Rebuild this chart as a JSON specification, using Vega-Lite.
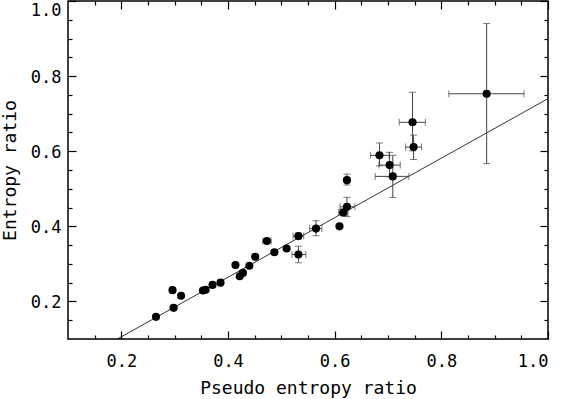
{
  "$schema": "https://vega.github.io/schema/vega-lite/v6.json",
  "width": 480,
  "height": 338,
  "autosize": "none",
  "padding": {"left": 68, "top": 1, "right": 14, "bottom": 60},
  "background": "white",
  "config": {
    "view": {"stroke": "black", "strokeWidth": 1.5},
    "axis": {
      "labelFont": "DejaVu Sans Mono",
      "titleFont": "DejaVu Sans Mono",
      "labelColor": "black",
      "titleColor": "black",
      "tickColor": "black",
      "tickWidth": 1.2,
      "domain": false,
      "grid": false,
      "titleFontWeight": "normal",
      "labelFontSize": 17,
      "titleFontSize": 18
    }
  },
  "datasets": {
    "pts": [
      {"x": 0.265, "y": 0.159}, {"x": 0.296, "y": 0.230}, {"x": 0.298, "y": 0.183},
      {"x": 0.312, "y": 0.215}, {"x": 0.353, "y": 0.229}, {"x": 0.358, "y": 0.231},
      {"x": 0.371, "y": 0.244}, {"x": 0.386, "y": 0.250}, {"x": 0.414, "y": 0.297},
      {"x": 0.422, "y": 0.267}, {"x": 0.428, "y": 0.276}, {"x": 0.440, "y": 0.295},
      {"x": 0.451, "y": 0.319}, {"x": 0.473, "y": 0.361}, {"x": 0.487, "y": 0.331},
      {"x": 0.510, "y": 0.341}, {"x": 0.532, "y": 0.374}, {"x": 0.532, "y": 0.325},
      {"x": 0.565, "y": 0.394}, {"x": 0.609, "y": 0.400}, {"x": 0.616, "y": 0.437},
      {"x": 0.623, "y": 0.452}, {"x": 0.623, "y": 0.523}, {"x": 0.684, "y": 0.589},
      {"x": 0.703, "y": 0.563}, {"x": 0.709, "y": 0.533}, {"x": 0.746, "y": 0.677},
      {"x": 0.748, "y": 0.611}, {"x": 0.885, "y": 0.753}
    ],
    "ex": [
      {"y": 0.361, "xlo": 0.465, "xhi": 0.481},
      {"y": 0.374, "xlo": 0.522, "xhi": 0.542},
      {"y": 0.325, "xlo": 0.520, "xhi": 0.546},
      {"y": 0.394, "xlo": 0.553, "xhi": 0.576},
      {"y": 0.437, "xlo": 0.607, "xhi": 0.625},
      {"y": 0.452, "xlo": 0.610, "xhi": 0.638},
      {"y": 0.589, "xlo": 0.667, "xhi": 0.702},
      {"y": 0.563, "xlo": 0.683, "xhi": 0.723},
      {"y": 0.533, "xlo": 0.676, "xhi": 0.739},
      {"y": 0.677, "xlo": 0.721, "xhi": 0.770},
      {"y": 0.611, "xlo": 0.733, "xhi": 0.763},
      {"y": 0.753, "xlo": 0.814, "xhi": 0.955}
    ],
    "ey": [
      {"x": 0.532, "ylo": 0.366, "yhi": 0.382},
      {"x": 0.532, "ylo": 0.303, "yhi": 0.347},
      {"x": 0.565, "ylo": 0.375, "yhi": 0.415},
      {"x": 0.616, "ylo": 0.428, "yhi": 0.446},
      {"x": 0.623, "ylo": 0.426, "yhi": 0.477},
      {"x": 0.623, "ylo": 0.510, "yhi": 0.539},
      {"x": 0.684, "ylo": 0.561, "yhi": 0.622},
      {"x": 0.703, "ylo": 0.532, "yhi": 0.597},
      {"x": 0.709, "ylo": 0.477, "yhi": 0.589},
      {"x": 0.746, "ylo": 0.601, "yhi": 0.757},
      {"x": 0.748, "ylo": 0.578, "yhi": 0.643},
      {"x": 0.885, "ylo": 0.567, "yhi": 0.940}
    ],
    "fit": [
      {"x": 0.1925, "y": 0.1},
      {"x": 1.0, "y": 0.740}
    ]
  },
  "resolve": {"axis": {"x": "independent", "y": "independent"}},
  "layer": [
    {
      "data": {"name": "fit"},
      "mark": {"type": "line", "color": "black", "strokeWidth": 0.8, "clip": true},
      "encoding": {
        "x": {"field": "x", "type": "quantitative",
              "scale": {"domain": [0.1, 1.0], "nice": false, "zero": false},
              "axis": {"orient": "bottom", "values": [0.2, 0.4, 0.6, 0.8, 1.0], "format": ".1f",
                       "ticks": false, "labelPadding": 14, "title": "Pseudo entropy ratio", "titlePadding": 10}},
        "y": {"field": "y", "type": "quantitative",
              "scale": {"domain": [0.1, 1.0], "nice": false, "zero": false},
              "axis": {"orient": "left", "values": [0.2, 0.4, 0.6, 0.8, 1.0], "format": ".1f",
                       "ticks": false, "labelPadding": 7, "title": "Entropy ratio", "titlePadding": 11,
                       "labelOffset": {"condition": {"test": "datum.value >= 0.99", "value": 9}, "value": 1}}}
      }
    },
    {
      "data": {"name": "ex"},
      "mark": {"type": "rule", "color": "#444444", "strokeWidth": 1},
      "encoding": {
        "x": {"field": "xlo", "type": "quantitative",
              "scale": {"domain": [0.1, 1.0], "nice": false, "zero": false},
              "axis": {"orient": "bottom", "values": [0.2, 0.4, 0.6, 0.8, 1.0], "labels": false, "tickSize": -8, "title": null}},
        "x2": {"field": "xhi"},
        "y": {"field": "y", "type": "quantitative",
              "scale": {"domain": [0.1, 1.0], "nice": false, "zero": false},
              "axis": {"orient": "left", "values": [0.2, 0.4, 0.6, 0.8, 1.0], "labels": false, "tickSize": -8, "title": null}}
      }
    },
    {
      "data": {"name": "ey"},
      "mark": {"type": "rule", "color": "#444444", "strokeWidth": 1},
      "encoding": {
        "x": {"field": "x", "type": "quantitative",
              "scale": {"domain": [0.1, 1.0], "nice": false, "zero": false},
              "axis": {"orient": "top", "values": [0.2, 0.4, 0.6, 0.8, 1.0], "labels": false, "tickSize": -8, "title": null}},
        "y": {"field": "ylo", "type": "quantitative",
              "scale": {"domain": [0.1, 1.0], "nice": false, "zero": false},
              "axis": {"orient": "right", "values": [0.2, 0.4, 0.6, 0.8, 1.0], "labels": false, "tickSize": -8, "title": null}},
        "y2": {"field": "yhi"}
      }
    },
    {
      "data": {"name": "ex"},
      "mark": {"type": "tick", "orient": "vertical", "color": "#444444", "size": 7, "thickness": 1},
      "encoding": {
        "x": {"field": "xlo", "type": "quantitative",
              "scale": {"domain": [0.1, 1.0], "nice": false, "zero": false},
              "axis": {"orient": "bottom", "values": [0.15, 0.25, 0.3, 0.35, 0.45, 0.5, 0.55, 0.65, 0.7, 0.75, 0.85, 0.9, 0.95], "labels": false, "tickSize": -4, "title": null}},
        "y": {"field": "y", "type": "quantitative",
              "scale": {"domain": [0.1, 1.0], "nice": false, "zero": false},
              "axis": {"orient": "left", "values": [0.15, 0.25, 0.3, 0.35, 0.45, 0.5, 0.55, 0.65, 0.7, 0.75, 0.85, 0.9, 0.95], "labels": false, "tickSize": -4, "title": null}}
      }
    },
    {
      "data": {"name": "ex"},
      "mark": {"type": "tick", "orient": "vertical", "color": "#444444", "size": 7, "thickness": 1},
      "encoding": {
        "x": {"field": "xhi", "type": "quantitative",
              "scale": {"domain": [0.1, 1.0], "nice": false, "zero": false},
              "axis": {"orient": "top", "values": [0.15, 0.25, 0.3, 0.35, 0.45, 0.5, 0.55, 0.65, 0.7, 0.75, 0.85, 0.9, 0.95], "labels": false, "tickSize": -4, "title": null}},
        "y": {"field": "y", "type": "quantitative",
              "scale": {"domain": [0.1, 1.0], "nice": false, "zero": false},
              "axis": {"orient": "right", "values": [0.15, 0.25, 0.3, 0.35, 0.45, 0.5, 0.55, 0.65, 0.7, 0.75, 0.85, 0.9, 0.95], "labels": false, "tickSize": -4, "title": null}}
      }
    },
    {
      "data": {"name": "ey"},
      "mark": {"type": "tick", "orient": "horizontal", "color": "#444444", "size": 7, "thickness": 1},
      "encoding": {
        "x": {"field": "x", "type": "quantitative",
              "scale": {"domain": [0.1, 1.0], "nice": false, "zero": false}, "axis": null},
        "y": {"field": "ylo", "type": "quantitative",
              "scale": {"domain": [0.1, 1.0], "nice": false, "zero": false}, "axis": null}
      }
    },
    {
      "data": {"name": "ey"},
      "mark": {"type": "tick", "orient": "horizontal", "color": "#444444", "size": 7, "thickness": 1},
      "encoding": {
        "x": {"field": "x", "type": "quantitative",
              "scale": {"domain": [0.1, 1.0], "nice": false, "zero": false}, "axis": null},
        "y": {"field": "yhi", "type": "quantitative",
              "scale": {"domain": [0.1, 1.0], "nice": false, "zero": false}, "axis": null}
      }
    },
    {
      "data": {"name": "pts"},
      "mark": {"type": "circle", "color": "black", "opacity": 1, "size": 66},
      "encoding": {
        "x": {"field": "x", "type": "quantitative",
              "scale": {"domain": [0.1, 1.0], "nice": false, "zero": false}, "axis": null},
        "y": {"field": "y", "type": "quantitative",
              "scale": {"domain": [0.1, 1.0], "nice": false, "zero": false}, "axis": null}
      }
    }
  ]
}
